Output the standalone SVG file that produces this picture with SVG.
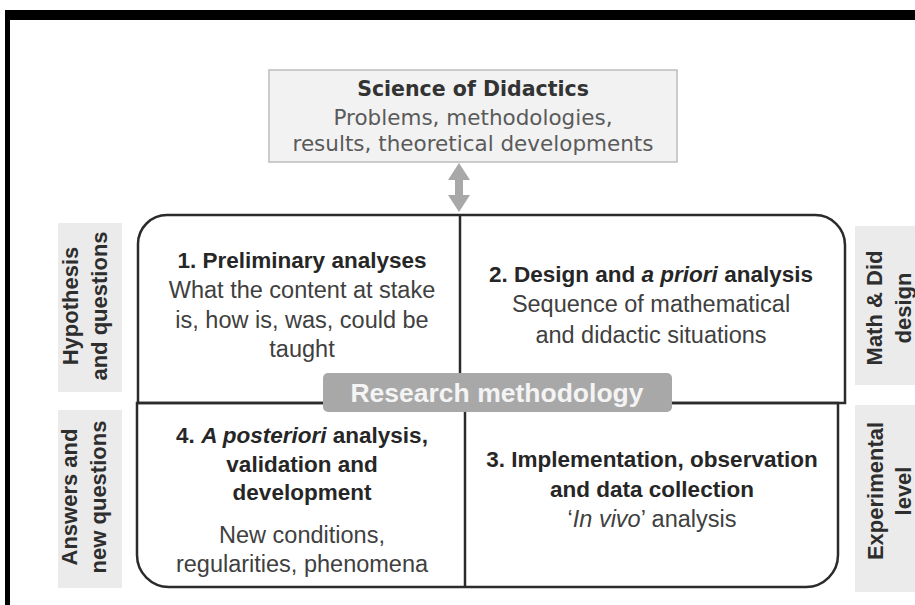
<svg xmlns="http://www.w3.org/2000/svg" width="915" height="605" viewBox="0 0 915 605">
<style>
.frame{stroke:#2b2b2b;stroke-width:2.5;fill:none}
.box{fill:#f2f2f2;stroke:#bdbdbd;stroke-width:1.5}
.side{fill:#ebebeb}
.t{font-family:"Liberation Sans",Arial,sans-serif;text-anchor:middle}
.b{font-weight:bold;font-size:22.5px;fill:#262626}
.r{font-size:23.5px;fill:#404040}
.lab{font-family:"Liberation Sans",Arial,sans-serif;font-weight:bold;font-size:22px;fill:#2e2e2e;text-anchor:middle}
.top{font-family:"DejaVu Sans",sans-serif;text-anchor:middle}
</style>
<rect x="0" y="0" width="915" height="605" fill="#ffffff"/>
<g id="border">
<rect x="5" y="10" width="910" height="10" fill="#000"/>
<rect x="5" y="10" width="5" height="595" fill="#000"/>
</g>
<g id="science">
<rect class="box" x="269" y="70" width="408" height="92"/>
<text class="top" x="473" y="96" font-size="20.5" font-weight="bold" fill="#333">Science of Didactics</text>
<text class="top" x="473" y="125" font-size="21.5" fill="#5a5a5a">Problems, methodologies,</text>
<text class="top" x="473" y="151" font-size="21.5" fill="#5a5a5a">results, theoretical developments</text>
</g>
<g id="connectors">
<polygon points="459,163 470,180 463,180 463,195 470,195 459,212 448,195 455,195 455,180 448,180" fill="#a8a8a8"/>
</g>
<g id="top-half">
<path class="frame" d="M138,403 V244 A29,29 0 0 1 167,215 H815 A30,30 0 0 1 845,245 V403 Z"/>
<line class="frame" x1="460" y1="215" x2="460" y2="374"/>
</g>
<g id="bottom-half">
<path class="frame" d="M137,403 H838 V555 A32,32 0 0 1 806,587 H169 A32,32 0 0 1 137,555 Z"/>
<line class="frame" x1="465" y1="412" x2="465" y2="587"/>
</g>
<g id="q1">
<text class="t b" x="302" y="268">1. Preliminary analyses</text>
<text class="t r" x="302" y="298">What the content at stake</text>
<text class="t r" x="302" y="328">is, how is, was, could be</text>
<text class="t r" x="302" y="357">taught</text>
</g>
<g id="q2">
<text class="t b" x="651" y="282">2. Design and <tspan font-style="italic">a priori</tspan> analysis</text>
<text class="t r" x="651" y="312">Sequence of mathematical</text>
<text class="t r" x="651" y="343">and didactic situations</text>
</g>
<g id="q4">
<text class="t b" x="302" y="443">4. <tspan font-style="italic">A posteriori</tspan> analysis,</text>
<text class="t b" x="302" y="472">validation and</text>
<text class="t b" x="302" y="500">development</text>
<text class="t r" x="302" y="543">New conditions,</text>
<text class="t r" x="302" y="572">regularities, phenomena</text>
</g>
<g id="q3">
<text class="t b" x="652" y="467">3. Implementation, observation</text>
<text class="t b" x="652" y="497">and data collection</text>
<text class="t r" x="652" y="527">‘<tspan font-style="italic">In vivo</tspan>’ analysis</text>
</g>
<g id="research-methodology">
<rect x="323" y="373" width="349" height="39" rx="5" fill="#a8a8a8"/>
<text x="497" y="402" font-family="Liberation Sans,Arial,sans-serif" font-weight="bold" font-size="26.5" fill="#f4f4f4" text-anchor="middle">Research methodology</text>
</g>
<g id="hypothesis">
<rect class="side" x="58" y="223" width="64" height="169"/>
<text class="lab" transform="translate(78,306) rotate(-90)"><tspan x="0" y="0">Hypothesis</tspan><tspan x="0" y="29">and questions</tspan></text>
</g>
<g id="answers">
<rect class="side" x="58" y="410" width="64" height="178"/>
<text class="lab" transform="translate(77,497) rotate(-90)"><tspan x="0" y="0">Answers and</tspan><tspan x="0" y="29">new questions</tspan></text>
</g>
<g id="math-did">
<rect class="side" x="855" y="226" width="60" height="159"/>
<text class="lab" transform="translate(882,308) rotate(-90)"><tspan x="0" y="0">Math &amp; Did</tspan><tspan x="0" y="29">design</tspan></text>
</g>
<g id="experimental">
<rect class="side" x="855" y="405" width="60" height="187"/>
<text class="lab" transform="translate(883,491) rotate(-90)"><tspan x="0" y="0">Experimental</tspan><tspan x="0" y="28">level</tspan></text>
</g>
</svg>
